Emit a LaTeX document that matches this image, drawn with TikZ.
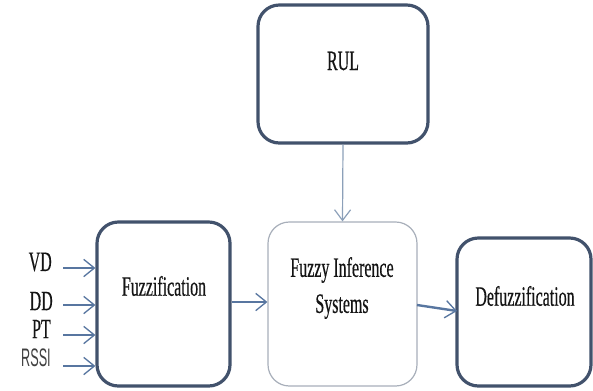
\documentclass[tikz,border=0pt]{standalone}
\usepackage{fontspec}
\setmainfont{Liberation Serif}
\newfontfamily\cond[FakeStretch=0.57,FakeBold=0.4]{Liberation Serif}
\newfontfamily\condsans[FakeStretch=0.5]{Liberation Sans}
\usetikzlibrary{arrows.meta}
\definecolor{boxdark}{RGB}{66,82,108}
\definecolor{boxlight}{RGB}{168,175,186}
\definecolor{arrowblue}{RGB}{88,118,160}
\definecolor{arrowlight}{RGB}{140,160,185}
\definecolor{txt}{RGB}{20,20,20}
\begin{document}
\begin{tikzpicture}[x=0.75pt,y=-0.75pt,
  thickbox/.style={draw=boxdark,line width=2.4pt,rounded corners=16pt,fill=white,inner sep=0pt},
  thinbox/.style={draw=boxlight,line width=0.9pt,rounded corners=16pt,fill=white,inner sep=0pt},
  lbl/.style={font=\cond\fontsize{21}{24}\selectfont,text=txt,inner sep=0pt,align=center},
  arr/.style={draw=arrowblue,line width=1.2pt,-{Straight Barb[length=8pt,width=13pt,line width=1pt]}},
  arrl/.style={draw=arrowlight,line width=0.9pt,-{Straight Barb[length=8pt,width=12pt,line width=0.9pt]}}
]
\useasboundingbox (0,0) rectangle (593,390);
% boxes
\node[thickbox,minimum width=127.5pt,minimum height=103.5pt] (rul) at (343,74) {};
\node[thickbox,minimum width=99.75pt,minimum height=123pt] (fz) at (163.5,304) {};
\node[thinbox,minimum width=111.75pt,minimum height=123pt] (fis) at (342.5,304) {};
\node[thickbox,minimum width=100.5pt,minimum height=111pt] (dfz) at (524,312) {};
% texts
\node[lbl] (rult) at (343,61) {RUL};
\node[lbl] (fzt) at (164,286) {Fuzzification};
\node[lbl,font=\cond\fontsize{21}{27}\selectfont] (fist) at (342,288) {Fuzzy Inference\\Systems};
\node[lbl] (dfzt) at (525,296) {Defuzzification};
% inputs
\coordinate (i1) at (63,268);
\coordinate (i2) at (63,305);
\coordinate (i3) at (63,335);
\coordinate (i4) at (63,366);
\node[lbl,anchor=east] (vd) at (52,262) {VD};
\node[lbl,anchor=east] (dd) at (53,301) {DD};
\node[lbl,anchor=east] (pt) at (51,329) {PT};
\node[lbl,anchor=east,font=\condsans\fontsize{19}{22}\selectfont,text=black!75] (rssi) at (51,358) {RSSI};
\draw[arr] (i1) -- (i1 -| fz.west);
\draw[arr] (i2) -- (i2 -| fz.west);
\draw[arr] (i3) -- (i3 -| fz.west);
\draw[arr] (i4) -- (i4 -| fz.west);
% connectors
\coordinate (f1) at (230,302);
\draw[arr] (fz.east |- f1) -- (fis.west |- f1);
\draw[arrl] (rul.south) -- (fis.north);
\coordinate (s1) at (417,305);
\coordinate (s2) at (457,311);
\draw[arr,line width=1.8pt] (s1) -- (s2);
\end{tikzpicture}
\end{document}
